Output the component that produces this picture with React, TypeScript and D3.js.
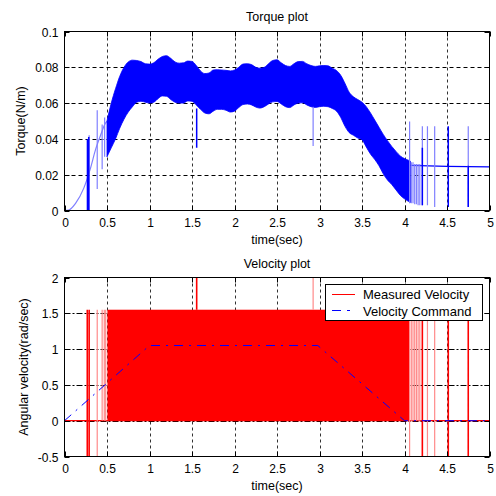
import React from "react";
import * as d3 from "d3";

// ---------- data ----------
const xTicks = [0, 0.5, 1, 1.5, 2, 2.5, 3, 3.5, 4, 4.5, 5];
const torqueTicks = [0, 0.02, 0.04, 0.06, 0.08, 0.1];
const velocityTicks = [-0.5, 0, 0.5, 1, 1.5, 2];

// torque band envelope (dense oscillation)
const bandT = [0.5, 0.55, 0.6, 0.65, 0.7, 0.75, 0.8, 0.85, 0.9, 0.95, 1.0, 1.05, 1.1, 1.15, 1.2, 1.25, 1.3, 1.35, 1.4, 1.45, 1.5, 1.55, 1.6, 1.65, 1.7, 1.75, 1.8, 1.85, 1.9, 1.95, 2.0, 2.05, 2.1, 2.15, 2.2, 2.25, 2.3, 2.35, 2.4, 2.45, 2.5, 2.55, 2.6, 2.65, 2.7, 2.75, 2.8, 2.85, 2.9, 2.95, 3.0, 3.05, 3.1, 3.15, 3.2, 3.25, 3.3, 3.35, 3.4, 3.45, 3.5, 3.55, 3.6, 3.65, 3.7, 3.75, 3.8, 3.85, 3.9, 3.95, 4.0, 4.05, 4.07];
const bandUpper = [0.05, 0.06, 0.068, 0.075, 0.08, 0.083, 0.084, 0.0838, 0.0832, 0.082, 0.0818, 0.0825, 0.0845, 0.086, 0.0865, 0.085, 0.083, 0.0823, 0.0825, 0.0835, 0.0833, 0.081, 0.078, 0.0765, 0.0768, 0.0785, 0.0787, 0.0785, 0.0783, 0.078, 0.0785, 0.08, 0.0818, 0.082, 0.0815, 0.08, 0.0795, 0.08, 0.082, 0.0838, 0.0842, 0.0825, 0.081, 0.0805, 0.082, 0.0832, 0.0833, 0.082, 0.081, 0.0805, 0.0808, 0.081, 0.0808, 0.0795, 0.0782, 0.0755, 0.071, 0.066, 0.0635, 0.062, 0.0605, 0.058, 0.0545, 0.0505, 0.0465, 0.0425, 0.039, 0.0358, 0.033, 0.0305, 0.029, 0.028, 0.0275];
const bandLower = [0.03, 0.035, 0.04, 0.046, 0.051, 0.055, 0.058, 0.0605, 0.061, 0.0605, 0.06, 0.0605, 0.0625, 0.064, 0.0638, 0.062, 0.0605, 0.06, 0.06, 0.0612, 0.061, 0.059, 0.0565, 0.0545, 0.054, 0.0555, 0.0565, 0.0565, 0.056, 0.055, 0.0555, 0.0575, 0.0592, 0.0595, 0.059, 0.0578, 0.0572, 0.058, 0.0595, 0.0607, 0.0609, 0.0595, 0.058, 0.0575, 0.059, 0.06, 0.0602, 0.059, 0.058, 0.0576, 0.058, 0.0582, 0.058, 0.057, 0.0555, 0.052, 0.047, 0.0435, 0.042, 0.0405, 0.0395, 0.0355, 0.0315, 0.0285, 0.025, 0.0205, 0.017, 0.0145, 0.0115, 0.0085, 0.0065, 0.005, 0.0045];

// initial torque ramp (thin line)
const rampT = [0, 0.05, 0.13, 0.227, 0.306, 0.365, 0.424, 0.482, 0.5];
const rampV = [0, 0.0003, 0.004, 0.0125, 0.0237, 0.034, 0.042, 0.0488, 0.05];

// settled torque after stop
const tailT = [4.07, 4.5, 5];
const tailV = [0.0252, 0.0247, 0.0244];

// torque spikes
const tSpikeStrongT = [0.27, 0.285, 1.555, 4.21, 4.515, 4.75];
const tSpikeStrongLo = [0, 0, 0.035, 0.003, 0.002, 0.002];
const tSpikeStrongHi = [0.04, 0.041, 0.057, 0.035, 0.047, 0.025];
const tSpikeFaintT = [0.29, 0.385, 0.443, 0.472, 2.925, 4.06, 4.08, 4.1, 4.12, 4.14, 4.16, 4.18, 4.21, 4.27, 4.355, 4.75];
const tSpikeFaintLo = [0, 0.012, 0.023, 0.03, 0.036, 0.004, 0.004, 0.004, 0.0035, 0.0035, 0.003, 0.003, 0.003, 0.003, 0.002, 0.002];
const tSpikeFaintHi = [0.042, 0.056, 0.048, 0.052, 0.058, 0.0497, 0.027, 0.027, 0.026, 0.026, 0.026, 0.026, 0.047, 0.047, 0.047, 0.047];

// measured velocity: dense switching block [tStart, tEnd, vLow, vHigh]
const measuredBlock = [0.505, 4.06, 0, 1.55];
const measuredBaseT = [0, 5];
const measuredBaseV = [0, 0];
const vSpikeStrongT = [0.268, 0.29, 1.555, 4.21, 4.515, 4.75];
const vSpikeStrongLo = [-0.5, -0.5, 1.55, -0.5, -0.5, -0.5];
const vSpikeStrongHi = [1.55, 1.55, 2, 1.55, 1.55, 1.55];
const vSpikeFaintT = [0.385, 0.443, 0.468, 0.485, 2.925, 4.06, 4.08, 4.1, 4.12, 4.14, 4.16, 4.18, 4.27, 4.355];
const vSpikeFaintLo = [-0.5, 0, 0, 0, 1.55, -0.5, 0, 0, 0, 0, 0, 0, -0.5, -0.5];
const vSpikeFaintHi = [1.55, 1.55, 1.55, 1.55, 2, 1.55, 1.55, 1.55, 1.55, 1.55, 1.55, 1.55, 1.55, 1.55];

// velocity command
const commandT = [0, 1.0, 2.98, 4.0, 5];
const commandV = [0, 1.05, 1.05, 0, 0];

const legendLabels = ["Measured Velocity", "Velocity Command"];

// ---------- layout ----------
const W = 496, H = 496;
const L = 64.5, R = 489.5;
const top1 = 31.5, bot1 = 210.5;
const top2 = 277.5, bot2 = 456.5;
const FONT = "'Liberation Sans', Arial, Helvetica, sans-serif";
const BLUE = "#0000ff", FAINT_BLUE = "#8080ff";
const RED = "#ff0000", FAINT_RED = "#ff8a8a";

const x = d3.scaleLinear().domain([0, 5]).range([L, R]);
const yT = d3.scaleLinear().domain([0, 0.1]).range([bot1, top1]);
const yV = d3.scaleLinear().domain([-0.5, 2]).range([bot2, top2]);

function Axes({ y, ticks, top, bot, fmt, title, ylabel, ylabelX, hDash }: any) {
  const tl = 5;
  return (
    <g>
      {xTicks.slice(1, -1).map((t) => (
        <line key={"gx" + t} x1={Math.round(x(t)) + 0.5} x2={Math.round(x(t)) + 0.5} y1={top} y2={bot}
          stroke="#000" strokeWidth={1} strokeDasharray="3,3" opacity={0.8} />
      ))}
      {ticks.slice(1, -1).map((v: number) => (
        <line key={"gy" + v} x1={L} x2={R} y1={Math.round(y(v)) + 0.5} y2={Math.round(y(v)) + 0.5}
          stroke="#000" strokeWidth={1} strokeDasharray={hDash} />
      ))}
    </g>
  );
}

function Frame({ y, ticks, top, bot, fmt, title, ylabel, ylabelX, titleY, xlabelY }: any) {
  const tl = 5;
  const cx = (L + R) / 2;
  return (
    <g fontFamily={FONT} fill="#000">
      <rect x={L} y={top} width={R - L} height={bot - top} fill="none" stroke="#000" strokeWidth={1} />
      {xTicks.map((t) => {
        const px = Math.round(x(t)) + 0.5;
        return (
          <g key={"xt" + t}>
            <line x1={px} x2={px} y1={bot} y2={bot - tl} stroke="#000" />
            <line x1={px} x2={px} y1={top} y2={top + tl} stroke="#000" />
            <text x={px} y={bot + 16} fontSize={12} textAnchor="middle">{t}</text>
          </g>
        );
      })}
      {ticks.map((v: number) => {
        const py = Math.round(y(v)) + 0.5;
        return (
          <g key={"yt" + v}>
            <line x1={L} x2={L + tl} y1={py} y2={py} stroke="#000" />
            <line x1={R} x2={R - tl} y1={py} y2={py} stroke="#000" />
            <text x={L - 6} y={py + 4.5} fontSize={12} textAnchor="end">{fmt(v)}</text>
          </g>
        );
      })}
      <text x={cx} y={titleY} fontSize={12.5} textAnchor="middle">{title}</text>
      <text x={cx} y={xlabelY} fontSize={12.5} textAnchor="middle">time(sec)</text>
      <text transform={`translate(${ylabelX},${(top + bot) / 2}) rotate(-90)`} fontSize={12.5} textAnchor="middle">{ylabel}</text>
    </g>
  );
}

export default function App() {
  const band = bandT.map((t, i) => ({ t, u: bandUpper[i], l: bandLower[i] }));
  const areaGen = d3.area<any>().x((d) => x(d.t)).y0((d) => yT(d.l)).y1((d) => yT(d.u)).curve(d3.curveMonotoneX);
  const lineT = d3.line<number>().x((t) => x(t));
  const rampPath = d3.line<any>().x((d) => x(d[0])).y((d) => yT(d[1])).curve(d3.curveMonotoneX)(rampT.map((t, i) => [t, rampV[i]]));
  const tailPath = d3.line<any>().x((d) => x(d[0])).y((d) => yT(d[1]))(tailT.map((t, i) => [t, tailV[i]]));
  const basePath = d3.line<any>().x((d) => x(d[0])).y((d) => yV(d[1]))(measuredBaseT.map((t, i) => [t, measuredBaseV[i]]));
  const cmdPath = d3.line<any>().x((d) => x(d[0])).y((d) => yV(d[1]))(commandT.map((t, i) => [t, commandV[i]]));

  const fmtT = (v: number) => (v === 0 ? "0" : String(v));
  const fmtV = (v: number) => String(v);

  return (
    <svg width={W} height={H} style={{ position: "absolute", left: 0, top: 0, background: "#fff" }}>
      <defs>
        <clipPath id="c1"><rect x={L} y={top1} width={R - L} height={bot1 - top1} /></clipPath>
        <clipPath id="c2"><rect x={L} y={top2} width={R - L} height={bot2 - top2} /></clipPath>
      </defs>
      <rect x={0} y={0} width={W} height={H} fill="#fff" />

      {/* ---- torque plot ---- */}
      <Axes y={yT} ticks={torqueTicks} top={top1} bot={bot1} hDash="4,3" />
      <g clipPath="url(#c1)">
        <path d={rampPath || ""} fill="none" stroke={FAINT_BLUE} strokeWidth={1.2} />
        <path d={areaGen(band) || ""} fill={BLUE} stroke={BLUE} strokeWidth={0.8} />
        <path d={tailPath || ""} fill="none" stroke={BLUE} strokeWidth={1.2} />
        {tSpikeFaintT.map((t, i) => (
          <line key={"tf" + i} x1={x(t)} x2={x(t)} y1={yT(tSpikeFaintLo[i])} y2={yT(tSpikeFaintHi[i])} stroke={FAINT_BLUE} strokeWidth={1.2} />
        ))}
        {tSpikeStrongT.map((t, i) => (
          <line key={"ts" + i} x1={x(t)} x2={x(t)} y1={yT(tSpikeStrongLo[i])} y2={yT(tSpikeStrongHi[i])} stroke={BLUE} strokeWidth={1.5} />
        ))}
      </g>
      <Frame y={yT} ticks={torqueTicks} top={top1} bot={bot1} fmt={fmtT} title="Torque plot" ylabel="Torque(N/m)" ylabelX={24.5} titleY={21} xlabelY={243.5} />

      {/* ---- velocity plot ---- */}
      <Axes y={yV} ticks={velocityTicks} top={top2} bot={bot2} hDash="6,2,2,2" />
      <g clipPath="url(#c2)">
        <path d={basePath || ""} fill="none" stroke={RED} strokeWidth={1.2} />
        <rect x={x(measuredBlock[0])} y={yV(measuredBlock[3])} width={x(measuredBlock[1]) - x(measuredBlock[0])}
          height={yV(measuredBlock[2]) - yV(measuredBlock[3])} fill={RED} />
        {vSpikeFaintT.map((t, i) => (
          <line key={"vf" + i} x1={x(t)} x2={x(t)} y1={yV(vSpikeFaintLo[i])} y2={yV(vSpikeFaintHi[i])} stroke={FAINT_RED} strokeWidth={1.2} />
        ))}
        {vSpikeStrongT.map((t, i) => (
          <line key={"vs" + i} x1={x(t)} x2={x(t)} y1={yV(vSpikeStrongLo[i])} y2={yV(vSpikeStrongHi[i])} stroke={RED} strokeWidth={1.6} />
        ))}
        <path d={cmdPath || ""} fill="none" stroke={BLUE} strokeWidth={1} strokeDasharray="9,6,2,6" />
      </g>
      <Frame y={yV} ticks={velocityTicks} top={top2} bot={bot2} fmt={fmtV} title="Velocity plot" ylabel="Angular velocity(rad/sec)" ylabelX={28} titleY={267.5} xlabelY={490} />

      {/* legend */}
      <g fontFamily={FONT} fontSize={13}>
        <rect x={325.5} y={284.5} width={157} height={36} fill="#fff" stroke="#000" />
        <line x1={332} x2={355} y1={294.5} y2={294.5} stroke={RED} strokeWidth={1} />
        <text x={363} y={299}>{legendLabels[0]}</text>
        <line x1={332} x2={355} y1={310.5} y2={310.5} stroke={BLUE} strokeWidth={1} strokeDasharray="9,6,3,20" />
        <text x={363} y={315.5}>{legendLabels[1]}</text>
      </g>
    </svg>
  );
}
